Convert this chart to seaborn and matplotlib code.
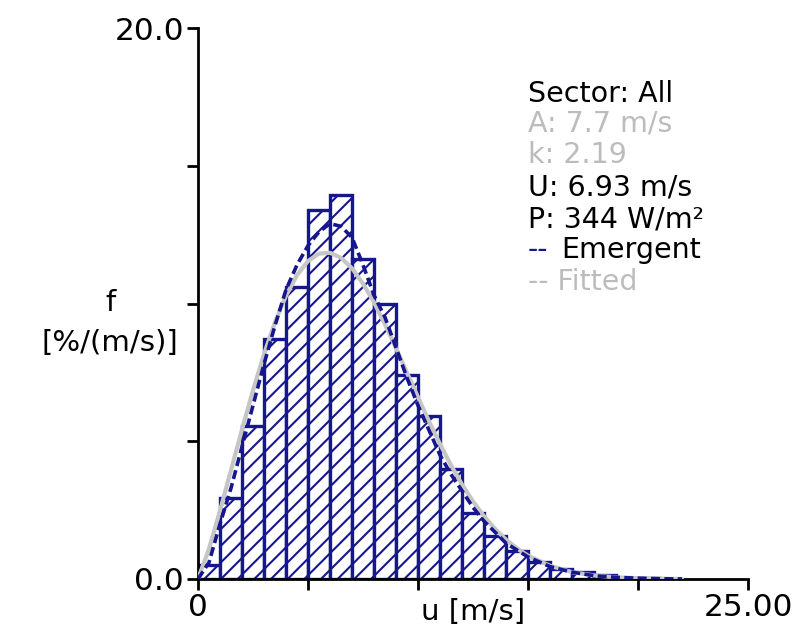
import numpy as np
import pandas as pd
import matplotlib
matplotlib.use("Agg")
import matplotlib.pyplot as plt
import seaborn as sns

# ---- data ----
bin_centers = [0.5, 1.5, 2.5, 3.5, 4.5, 5.5, 6.5, 7.5, 8.5, 9.5, 10.5,
               11.5, 12.5, 13.5, 14.5, 15.5, 16.5, 17.5, 18.5, 19.5, 20.5]
bin_freq = [0.5, 2.95, 5.55, 8.7, 10.6, 13.4, 13.95, 11.6, 10.0, 7.4, 5.9,
            4.0, 2.4, 1.55, 1.0, 0.6, 0.37, 0.25, 0.16, 0.05, 0.05]

fit_u = [0, 0.5, 1, 1.5, 2, 2.5, 3, 3.5, 4, 4.5, 5, 5.5, 6, 6.5, 7, 7.5, 8,
         8.5, 9, 9.5, 10, 10.5, 11, 11.5, 12, 12.5, 13, 13.5, 14, 14.5, 15,
         16, 17, 18, 19, 20, 21, 22]
fit_f = [0, 1.10, 2.48, 3.95, 5.43, 6.85, 8.16, 9.32, 10.28, 11.03, 11.54,
         11.81, 11.84, 11.66, 11.28, 10.72, 10.04, 9.24, 8.38, 7.49, 6.60,
         5.72, 4.90, 4.13, 3.43, 2.82, 2.28, 1.82, 1.43, 1.11, 0.85,
         0.48, 0.25, 0.13, 0.06, 0.03, 0.01, 0.0]

emg_u = [0, 0.5, 1, 1.5, 2, 2.5, 3, 3.5, 4, 4.5, 5, 5.5, 6, 6.5, 7, 7.5, 8,
         8.5, 9, 9.5, 10, 10.5, 11, 11.5, 12, 12.5, 13, 13.5, 14, 15, 16,
         17, 18, 19, 20, 21, 22]
emg_f = [0, 0.6, 2.0, 3.3, 4.8, 6.3, 7.8, 9.2, 10.5, 11.4, 12.1, 12.6, 12.9,
         12.8, 12.4, 11.4, 10.3, 9.5, 8.4, 7.3, 6.3, 5.4, 4.5, 3.8, 3.2, 2.6,
         2.1, 1.7, 1.3, 0.8, 0.45, 0.25, 0.12, 0.06, 0.03, 0.01, 0.0]

y_ticks = [0, 5, 10, 15, 20]
y_tick_labels = ["0.0", "", "", "", "20.0"]
x_ticks = [0, 5, 10, 15, 20, 25]
x_tick_labels = ["0", "", "", "", "", "25.00"]

legend_lines = ["Sector: All", "A: 7.7 m/s", "k: 2.19", "U: 6.93 m/s",
                "P: 344 W/m²"]

NAVY = "#16168f"
GRAY = "#bcbcbc"
FITGRAY = "#c6c6c6"

sns.set_style("ticks")
plt.rcParams["font.family"] = ["DejaVu Sans"]
plt.rcParams["hatch.color"] = NAVY
plt.rcParams["hatch.linewidth"] = 1.5

fig = plt.figure(figsize=(7.95, 6.35), dpi=100)
ax = fig.add_axes([198 / 795, 1 - 579 / 635, 550 / 795, 551 / 635])

df = pd.DataFrame({"u": bin_centers, "f": bin_freq})
sns.histplot(data=df, x="u", weights="f", binwidth=1, binrange=(0, 21),
             stat="count", ax=ax, color="white", edgecolor=NAVY,
             linewidth=2.4, alpha=1.0, zorder=2)
for p in ax.patches:
    p.set_hatch("//")
    p.set_facecolor("white")
    p.set_edgecolor(NAVY)

fit_df = pd.DataFrame({"u": fit_u, "f": fit_f})
sns.lineplot(data=fit_df, x="u", y="f", ax=ax, color=FITGRAY, linewidth=3.0,
             zorder=3)
emg_df = pd.DataFrame({"u": emg_u, "f": emg_f})
sns.lineplot(data=emg_df, x="u", y="f", ax=ax, color=NAVY, linewidth=2.6,
             linestyle=(0, (2.5, 1.2)), zorder=4)

ax.set_xlim(0, 25)
ax.set_ylim(0, 20)
ax.set_xticks(x_ticks)
ax.set_xticklabels(x_tick_labels)
ax.set_yticks(y_ticks)
ax.set_yticklabels(y_tick_labels)
ax.set_xlabel("")
ax.set_ylabel("")
sns.despine(ax=ax)
for s in ["left", "bottom"]:
    ax.spines[s].set_linewidth(2.0)
    ax.spines[s].set_color("black")
ax.tick_params(axis="both", length=8, width=2.0, colors="black",
               labelsize=22.5, pad=2)

ax.text(0.5, -0.035, "u [m/s]", transform=ax.transAxes, ha="center",
        va="top", fontsize=21, color="black")

fig.text(110 / 795, 1 - 303 / 635, "f", ha="center", va="center",
         fontsize=21, color="black")
fig.text(110 / 795, 1 - 343 / 635, "[%/(m/s)]", ha="center", va="center",
         fontsize=21, color="black")

x0 = 528 / 795
base = [102, 132, 163, 195, 227]
colors = ["black", GRAY, GRAY, "black", "black"]
fs = 20.5
for txt, yb, c in zip(legend_lines, base, colors):
    fig.text(x0, 1 - yb / 635, txt, ha="left", va="baseline", fontsize=fs,
             color=c)
fig.text(x0, 1 - 258 / 635, "--", ha="left", va="baseline", fontsize=fs,
         color=NAVY)
fig.text(561 / 795, 1 - 258 / 635, "Emergent", ha="left", va="baseline",
         fontsize=fs, color="black")
fig.text(x0, 1 - 290 / 635, "-- Fitted", ha="left", va="baseline",
         fontsize=fs, color=GRAY)

fig.savefig("out.png", dpi=100, facecolor="white")
